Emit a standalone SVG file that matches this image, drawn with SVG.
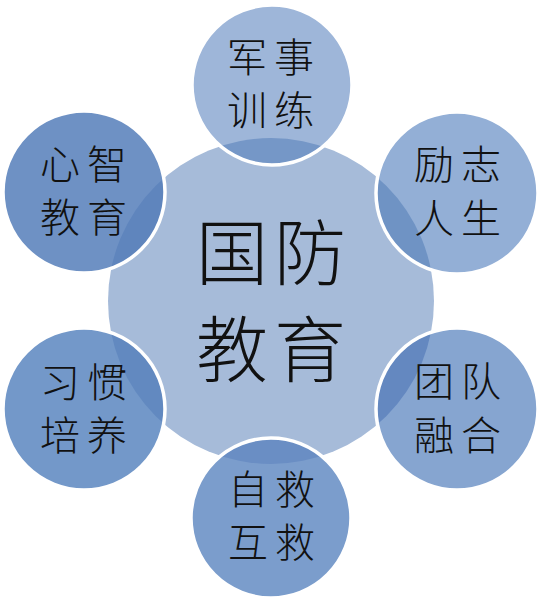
<svg xmlns="http://www.w3.org/2000/svg" width="543" height="602" viewBox="0 0 543 602">
<style>
.lbl{font-family:"Noto Sans CJK SC","Noto Sans CJK JP",sans-serif;font-size:40px;font-weight:300;fill:#111;text-anchor:middle;dominant-baseline:central;letter-spacing:7px}
.big{font-family:"Noto Sans CJK SC","Noto Sans CJK JP",sans-serif;font-size:72px;font-weight:300;fill:#111;text-anchor:middle;dominant-baseline:central;letter-spacing:6px}
.ring{fill:none;stroke:#ffffff;stroke-width:3.5}
</style>
<defs>
<clipPath id="cc"><circle cx="271" cy="301" r="163"/></clipPath>
</defs>
<rect width="543" height="602" fill="#ffffff"/>
<g id="center">
<circle cx="271" cy="301" r="163" fill="#a6bbd9"/>
<text class="big" x="274" y="247">国防</text>
<text class="big" x="274" y="344">教育</text>
</g>
<g id="n-top">
<circle cx="272" cy="85" r="80" fill="#9eb6d9"/>
<circle cx="272" cy="85" r="80" fill="#7597c7" clip-path="url(#cc)"/>
<circle class="ring" cx="272" cy="85" r="80"/>
<text class="lbl" x="274" y="55">军事</text>
<text class="lbl" x="274" y="108">训练</text>
</g>
<g id="n-topright">
<circle cx="457" cy="193" r="81" fill="#93afd6"/>
<circle cx="457" cy="193" r="81" fill="#6f93c4" clip-path="url(#cc)"/>
<circle class="ring" cx="457" cy="193" r="81"/>
<text class="lbl" x="461" y="162">励志</text>
<text class="lbl" x="461" y="216">人生</text>
</g>
<g id="n-bottomright">
<circle cx="457" cy="409" r="81" fill="#86a5d0"/>
<circle cx="457" cy="409" r="81" fill="#6488c0" clip-path="url(#cc)"/>
<circle class="ring" cx="457" cy="409" r="81"/>
<text class="lbl" x="461" y="379">团队</text>
<text class="lbl" x="461" y="433">融合</text>
</g>
<g id="n-bottom">
<circle cx="271" cy="518" r="80" fill="#7b9dcc"/>
<circle cx="271" cy="518" r="80" fill="#6a8ec4" clip-path="url(#cc)"/>
<circle class="ring" cx="271" cy="518" r="80"/>
<text class="lbl" x="275" y="487">自救</text>
<text class="lbl" x="275" y="540">互救</text>
</g>
<g id="n-bottomleft">
<circle cx="84" cy="409" r="81" fill="#7398c9"/>
<circle cx="84" cy="409" r="81" fill="#6289c0" clip-path="url(#cc)"/>
<circle class="ring" cx="84" cy="409" r="81"/>
<text class="lbl" x="87" y="380">习惯</text>
<text class="lbl" x="87" y="433">培养</text>
</g>
<g id="n-topleft">
<circle cx="84" cy="192" r="81" fill="#6e91c4"/>
<circle cx="84" cy="192" r="81" fill="#5f85bd" clip-path="url(#cc)"/>
<circle class="ring" cx="84" cy="192" r="81"/>
<text class="lbl" x="87" y="162">心智</text>
<text class="lbl" x="87" y="215">教育</text>
</g>
<g id="connectors"></g>
</svg>
